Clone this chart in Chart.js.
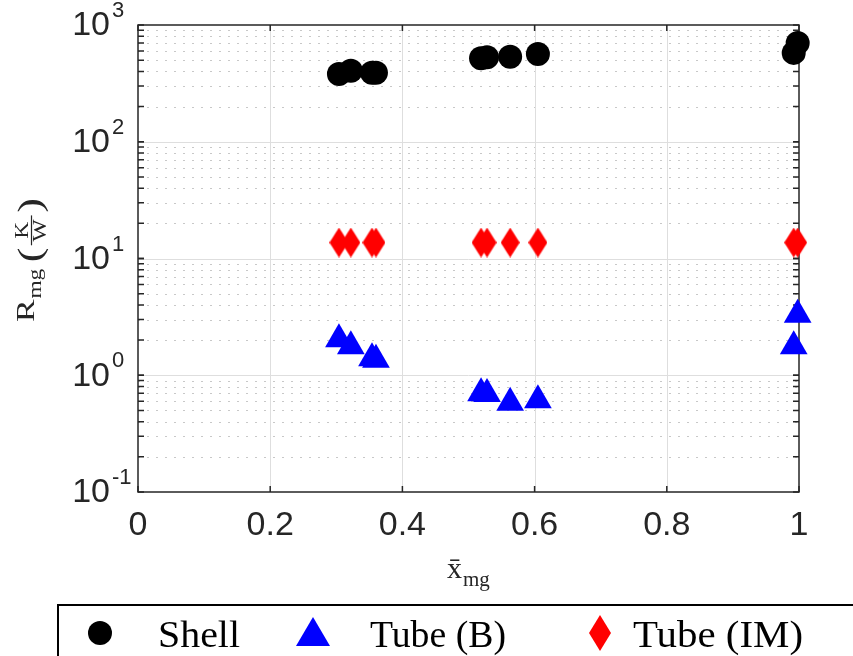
<!DOCTYPE html>
<html>
<head>
<meta charset="utf-8">
<script src="https://cdn.jsdelivr.net/npm/chart.js@4.4.1/dist/chart.umd.min.js"></script>
<style>
    body { margin: 0; background: #fff; }
    #wrap { width: 853px; height: 656px; }
</style>
</head>
<body>
<div id="wrap"><canvas id="chart" width="853" height="656"></canvas></div>
<script>
// values
const seriesNames = ["Shell", "Tube (B)", "Tube (IM)"];
const xMg = [0.304, 0.322, 0.354, 0.360, 0.519, 0.528, 0.563, 0.605, 0.992, 0.998];
const shellR = [380, 405, 390, 390, 520, 530, 535, 565, 577, 702];
const tubeBR = [2.03, 1.77, 1.40, 1.36, 0.70, 0.69, 0.58, 0.61, 1.77, 3.3];
const tubeIMR = [13.7, 13.7, 13.7, 13.7, 13.7, 13.7, 13.7, 13.7, 13.7, 13.7];
const xTicks = [0, 0.2, 0.4, 0.6, 0.8, 1];
const xTickLabels = ["0", "0.2", "0.4", "0.6", "0.8", "1"];
const yDecades = [-1, 0, 1, 2, 3];

const SANS = "'Liberation Sans', Arial, sans-serif";
const SERIF = "'Liberation Serif', 'Times New Roman', serif";

function points(ys) {
    return xMg.map((x, i) => ({ x: x, y: ys[i] }));
}

// tall red rhombus, like the matlab 'd' marker in the figure
function diamondImage(w, h) {
    const c = document.createElement("canvas");
    c.width = w;
    c.height = h;
    const g = c.getContext("2d");
    g.fillStyle = "#ff0000";
    g.beginPath();
    g.moveTo(w / 2, 0);
    g.lineTo(w, h / 2);
    g.lineTo(w / 2, h);
    g.lineTo(0, h / 2);
    g.closePath();
    g.fill();
    return c;
}

function fitText(ctx, text, x, y, w) {
    const m = ctx.measureText(text).width;
    ctx.save();
    ctx.translate(x, y);
    ctx.scale(w / m, 1);
    ctx.fillText(text, 0, 0);
    ctx.restore();
}

const frame = {
    id: "frame",
    beforeDatasetsDraw(chart) {
        const { ctx, chartArea: a, scales: { x, y } } = chart;
        ctx.save();

        // minor dotted grid
        ctx.strokeStyle = "#c8c8c8";
        ctx.lineWidth = 1;
        ctx.setLineDash([2, 7]);
        for (let e = -1; e < 3; e++) {
            for (let k = 2; k <= 9; k++) {
                const py = Math.round(y.getPixelForValue(k * Math.pow(10, e))) + 0.5;
                ctx.beginPath();
                ctx.moveTo(a.left, py);
                ctx.lineTo(a.right, py);
                ctx.stroke();
            }
        }

        // major grid
        ctx.setLineDash([]);
        ctx.strokeStyle = "#dedede";
        yDecades.slice(1, -1).forEach((e) => {
            const py = Math.round(y.getPixelForValue(Math.pow(10, e))) + 0.5;
            ctx.beginPath();
            ctx.moveTo(a.left, py);
            ctx.lineTo(a.right, py);
            ctx.stroke();
        });
        xTicks.slice(1, -1).forEach((v) => {
            const px = Math.round(x.getPixelForValue(v)) + 0.5;
            ctx.beginPath();
            ctx.moveTo(px, a.top);
            ctx.lineTo(px, a.bottom);
            ctx.stroke();
        });

        // inward ticks
        ctx.strokeStyle = "#262626";
        ctx.lineWidth = 1.5;
        const tl = 6;
        for (let e = -1; e < 3; e++) {
            for (let k = 1; k <= 10; k++) {
                const py = y.getPixelForValue(k * Math.pow(10, e));
                ctx.beginPath();
                ctx.moveTo(a.left, py);
                ctx.lineTo(a.left + tl, py);
                ctx.moveTo(a.right, py);
                ctx.lineTo(a.right - tl, py);
                ctx.stroke();
            }
        }
        xTicks.forEach((v) => {
            const px = x.getPixelForValue(v);
            ctx.beginPath();
            ctx.moveTo(px, a.bottom);
            ctx.lineTo(px, a.bottom - tl);
            ctx.moveTo(px, a.top);
            ctx.lineTo(px, a.top + tl);
            ctx.stroke();
        });
        ctx.strokeRect(a.left, a.top, a.width, a.height);

        // tick labels
        ctx.fillStyle = "#262626";
        ctx.textBaseline = "middle";
        yDecades.forEach((e) => {
            const py = y.getPixelForValue(Math.pow(10, e));
            ctx.font = "34px " + SANS;
            ctx.textAlign = "right";
            ctx.fillText("10", 110, py + 1);
            ctx.font = "22px " + SANS;
            ctx.textAlign = "left";
            ctx.fillText(e < 0 ? "-" + Math.abs(e) : String(e), 112, py - 14);
        });
        ctx.font = "34px " + SANS;
        ctx.textAlign = "center";
        xTicks.forEach((v, i) => {
            ctx.fillText(xTickLabels[i], x.getPixelForValue(v), a.bottom + 34);
        });

        // axis titles
        ctx.fillStyle = "#262626";
        ctx.textBaseline = "alphabetic";
        ctx.textAlign = "left";
        ctx.font = "30px " + SERIF;
        ctx.fillText("x\u0304", 447, 578);
        ctx.font = "21px " + SERIF;
        ctx.fillText("mg", 463, 586);

        // y title, stretched along the text like the source image
        ctx.save();
        ctx.translate(0, 322);
        ctx.rotate(-Math.PI / 2);
        ctx.scale(1.3, 1);
        ctx.font = "26px " + SERIF;
        ctx.fillText("R", 0, 34);
        ctx.font = "18px " + SERIF;
        ctx.fillText("mg", 18, 41);
        ctx.font = "34px " + SERIF;
        ctx.fillText("(", 46, 41);
        ctx.fillText(")", 84, 41);
        ctx.font = "18px " + SERIF;
        ctx.textAlign = "center";
        ctx.fillText("K", 70.5, 28);
        ctx.fillText("W", 70.5, 46);
        ctx.lineWidth = 1.2;
        ctx.strokeStyle = "#262626";
        ctx.beginPath();
        ctx.moveTo(59, 31.5);
        ctx.lineTo(82, 31.5);
        ctx.stroke();
        ctx.restore();

        ctx.restore();
    },
    afterDraw(chart) {
        const ctx = chart.ctx;
        ctx.save();
        ctx.lineWidth = 2;
        ctx.strokeStyle = "#000";
        ctx.strokeRect(58, 605, 860, 80);

        ctx.fillStyle = "#000";
        ctx.beginPath();
        ctx.arc(100, 633, 12, 0, Math.PI * 2);
        ctx.fill();

        ctx.fillStyle = "#0000ff";
        ctx.beginPath();
        ctx.moveTo(313, 617);
        ctx.lineTo(330, 646);
        ctx.lineTo(296, 646);
        ctx.closePath();
        ctx.fill();

        ctx.fillStyle = "#ff0000";
        ctx.beginPath();
        ctx.moveTo(600, 615);
        ctx.lineTo(611, 633);
        ctx.lineTo(600, 651);
        ctx.lineTo(589, 633);
        ctx.closePath();
        ctx.fill();

        ctx.fillStyle = "#000";
        ctx.font = "38px " + SERIF;
        ctx.textBaseline = "alphabetic";
        fitText(ctx, seriesNames[0], 158, 647, 82);
        fitText(ctx, seriesNames[1], 370, 647, 136);
        fitText(ctx, seriesNames[2], 633, 647, 170);
        ctx.restore();
    },
};

new Chart(document.getElementById("chart"), {
    type: "scatter",
    data: {
        datasets: [
            {
                label: seriesNames[0],
                data: points(shellR),
                pointStyle: "circle",
                pointRadius: 12,
                backgroundColor: "#000000",
                borderColor: "#000000",
                borderWidth: 0,
                clip: false,
            },
            {
                label: seriesNames[1],
                data: points(tubeBR),
                pointStyle: "triangle",
                pointRadius: 16,
                backgroundColor: "#0000ff",
                borderColor: "#0000ff",
                borderWidth: 0,
                clip: false,
            },
            {
                label: seriesNames[2],
                data: points(tubeIMR),
                pointStyle: diamondImage(19, 30),
                backgroundColor: "#ff0000",
                clip: false,
            },
        ],
    },
    options: {
        responsive: false,
        animation: false,
        layout: {
            padding: { left: 138, top: 25, right: 54, bottom: 164 },
        },
        plugins: {
            legend: { display: false },
            tooltip: { enabled: false },
        },
        scales: {
            x: {
                type: "linear",
                min: 0,
                max: 1,
                ticks: { display: false },
                grid: { display: false, drawTicks: false },
                border: { display: false },
            },
            y: {
                type: "logarithmic",
                min: 0.1,
                max: 1000,
                ticks: { display: false },
                grid: { display: false, drawTicks: false },
                border: { display: false },
            },
        },
    },
    plugins: [frame],
});
</script>
</body>
</html>
